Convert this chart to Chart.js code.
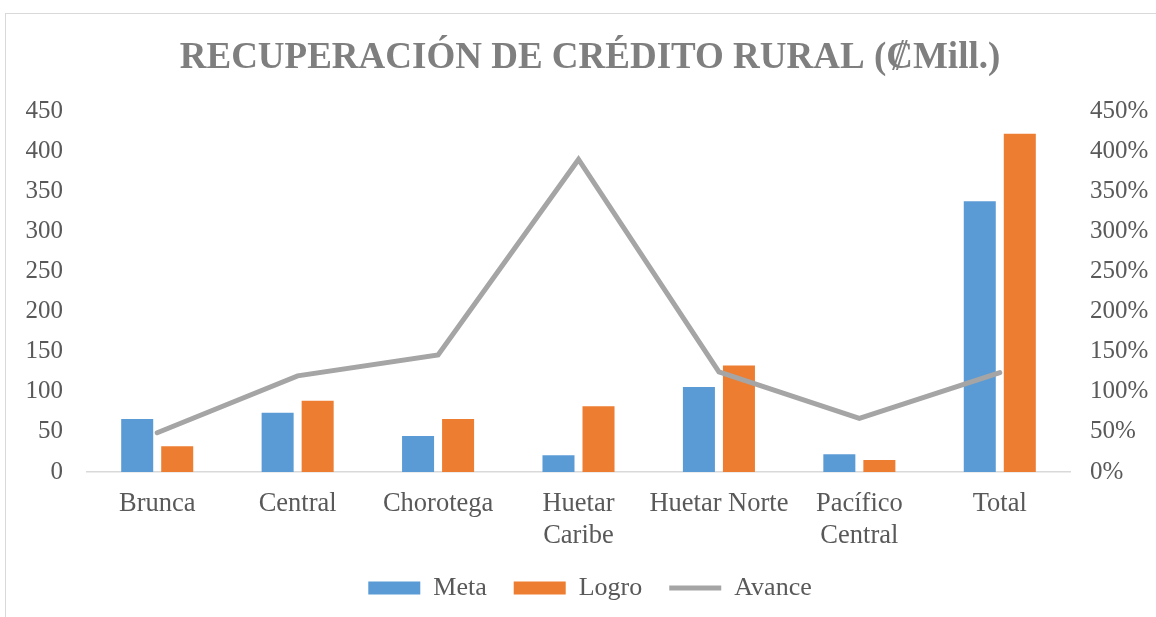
<!DOCTYPE html>
<html>
<head>
<meta charset="utf-8">
<script src="https://cdn.jsdelivr.net/npm/chart.js@4/dist/chart.umd.min.js"></script>
<style>
  html, body { margin: 0; padding: 0; background: #fff; overflow: hidden; width: 1156px; height: 617px; }
  #frame { position: absolute; left: 5px; top: 13px; width: 1200px; height: 700px; border: 1px solid #d9d9d9; }
  #wrap { position: absolute; left: 5px; top: 13px; }
</style>
</head>
<body>
<div id="frame"></div>
<div id="wrap"><canvas id="myChart" width="1170" height="604"></canvas></div>
<script>
// datos
const categorias = ["Brunca", "Central", "Chorotega", ["Huetar", "Caribe"], "Huetar Norte", ["Pacífico", "Central"], "Total"]
const meta = [66, 74, 45, 21, 106, 22, 338]
const logro = [32, 89, 66, 82, 133, 15, 422]
const avance = [49, 120, 146, 390, 125, 67, 124]
const ticksIzq = [0, 50, 100, 150, 200, 250, 300, 350, 400, 450]

const fuente = "'Liberation Serif', 'Times New Roman', serif"
const gris = "#595959"

const ctx = document.getElementById("myChart")

new Chart(ctx, {
	data: {
		labels: categorias,
		datasets: [
			{
				type: "bar",
				label: "Meta",
				data: meta,
				backgroundColor: "#5b9bd5",
				yAxisID: "y",
				order: 1,
				barPercentage: 0.8,
				categoryPercentage: 0.57,
			},
			{
				type: "bar",
				label: "Logro",
				data: logro,
				backgroundColor: "#ed7d31",
				yAxisID: "y",
				order: 1,
				barPercentage: 0.8,
				categoryPercentage: 0.57,
			},
			{
				type: "line",
				label: "Avance",
				data: avance,
				borderColor: "#a5a5a5",
				backgroundColor: "#a5a5a5",
				borderWidth: 5,
				borderCapStyle: "round",
				pointRadius: 0,
				tension: 0,
				yAxisID: "y1",
				order: 0,
			},
		],
	},
	options: {
		responsive: false,
		animation: false,
		layout: { padding: { left: 0, right: 0, top: 0, bottom: 6 } },
		plugins: {
			title: {
				display: true,
				text: "RECUPERACIÓN DE CRÉDITO RURAL (₡Mill.)",
				color: "#7f7f7f",
				font: { family: fuente, size: 37, weight: "bold" },
				padding: { top: 23, bottom: 31 },
			},
			legend: {
				position: "bottom",
				labels: {
					color: gris,
					font: { family: fuente, size: 26 },
					usePointStyle: true,
					pointStyleWidth: 52,
					boxHeight: 13,
					padding: 27,
					sort: (a, b) => a.datasetIndex - b.datasetIndex,
					generateLabels: function (chart) {
						const items = Chart.defaults.plugins.legend.labels.generateLabels(chart)
						items.forEach(function (it) {
							if (it.datasetIndex == 2) {
								it.pointStyle = "line"
								it.lineWidth = 5
								it.strokeStyle = "#a5a5a5"
							} else {
								it.pointStyle = "rect"
								it.lineWidth = 0
							}
						})
						return items
					},
				},
			},
			tooltip: { enabled: false },
		},
		scales: {
			x: {
				grid: { display: false },
				border: { display: true, color: "#d9d9d9", width: 1.5 },
				afterFit: function (axis) { axis.height = 76 },
				ticks: {
					color: gris,
					font: { family: fuente, size: 26.5, lineHeight: 1.2 },
					padding: 8,
					maxRotation: 0,
					autoSkip: false,
				},
			},
			y: {
				position: "left",
				min: 0,
				max: 450,
				grid: { display: false },
				border: { display: false },
				afterBuildTicks: function (axis) {
					axis.ticks = ticksIzq.map(v => ({ value: v }))
				},
				afterFit: function (axis) { axis.width = 82 },
				ticks: {
					color: gris,
					font: { family: fuente, size: 25 },
					padding: 16,
				},
			},
			y1: {
				position: "right",
				min: 0,
				max: 450,
				grid: { display: false },
				border: { display: false },
				afterBuildTicks: function (axis) {
					axis.ticks = ticksIzq.map(v => ({ value: v }))
				},
				afterFit: function (axis) { axis.width = 105 },
				ticks: {
					color: gris,
					font: { family: fuente, size: 25 },
					padding: 12,
					callback: v => v + "%",
				},
			},
		},
	},
})
</script>
</body>
</html>
